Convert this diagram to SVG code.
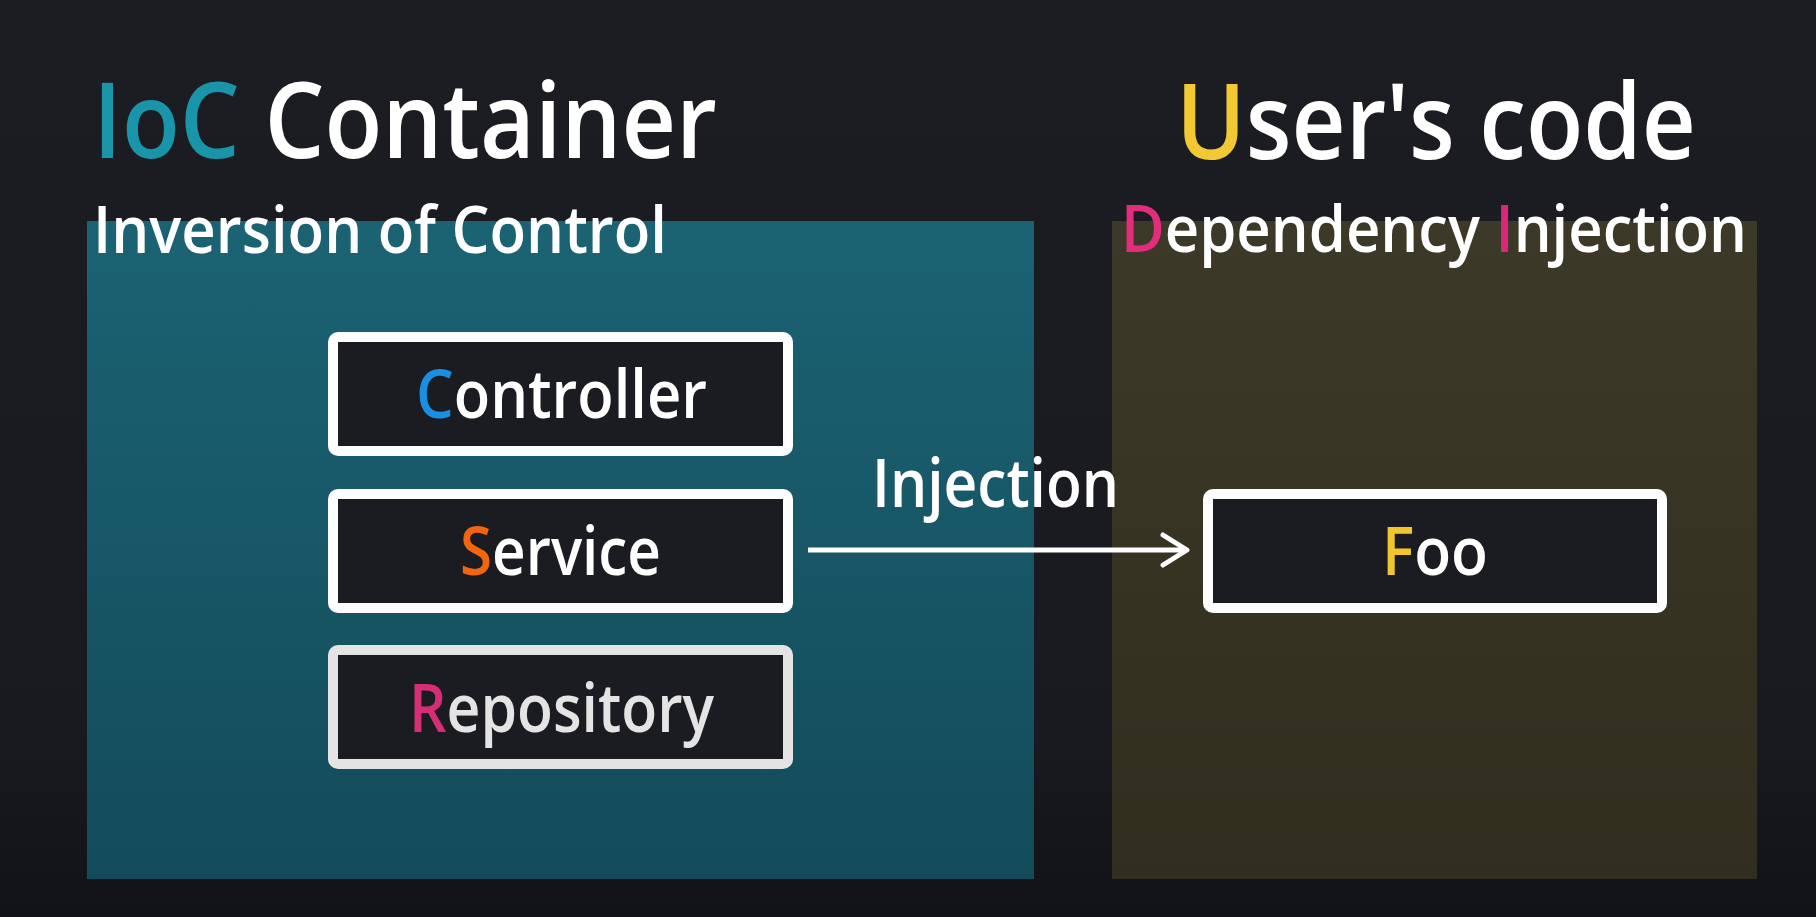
<svg xmlns="http://www.w3.org/2000/svg" width="1816" height="917" viewBox="0 0 1816 917">
<defs>
<linearGradient id="bg" x1="0" y1="0" x2="0" y2="1">
<stop offset="0" stop-color="#1c1d22"/>
<stop offset="0.8" stop-color="#191a1f"/>
<stop offset="1" stop-color="#121317"/>
</linearGradient>
<linearGradient id="teal" x1="0" y1="0" x2="0" y2="1">
<stop offset="0" stop-color="#1b6373"/>
<stop offset="1" stop-color="#134b5a"/>
</linearGradient>
<linearGradient id="olive" x1="0" y1="0" x2="0" y2="1">
<stop offset="0" stop-color="#3c3928"/>
<stop offset="1" stop-color="#322e1f"/>
</linearGradient>
<marker id="arrow" viewBox="0 0 30 36" refX="27" refY="18" markerWidth="30" markerHeight="36" markerUnits="userSpaceOnUse" orient="auto">
<path d="M3 3 L27 18 L3 33" fill="none" stroke="#ffffff" stroke-width="5" stroke-linecap="round" stroke-linejoin="round"/>
</marker>
</defs>
<style>
text{font-family:"Open Sans","Noto Sans","DejaVu Sans",sans-serif;font-weight:600;fill:#ffffff}
.title{font-size:105px}
.sub{font-size:66px}
.lbl{font-size:67px}
.box{fill:#1b1c21;stroke:#ffffff;stroke-width:10}
.dim{stroke:#e4e4e4}
</style>
<rect x="0" y="0" width="1816" height="917" fill="url(#bg)"/>
<g id="ioc-container">
<rect x="87" y="221" width="947" height="658" fill="url(#teal)"/>
<text class="title" x="93" y="158" textLength="624" lengthAdjust="spacingAndGlyphs"><tspan fill="#1a94a9">IoC</tspan> Container</text>
<text class="sub" x="93" y="253" textLength="574" lengthAdjust="spacingAndGlyphs">Inversion of Control</text>
</g>
<g id="users-code">
<rect x="1112" y="221" width="645" height="658" fill="url(#olive)"/>
<text class="title" x="1176" y="159" textLength="520" lengthAdjust="spacingAndGlyphs"><tspan fill="#f2c933">U</tspan>ser's code</text>
<text class="sub" x="1121" y="252" textLength="626" lengthAdjust="spacingAndGlyphs"><tspan fill="#e42c7c">D</tspan>ependency <tspan fill="#d9277a">I</tspan>njection</text>
</g>
<g id="controller">
<rect class="box" x="333" y="337" width="455" height="114" rx="5"/>
<text class="lbl" x="416" y="418" textLength="291" lengthAdjust="spacingAndGlyphs"><tspan fill="#1a8ee0">C</tspan>ontroller</text>
</g>
<g id="service">
<rect class="box" x="333" y="494" width="455" height="114" rx="5"/>
<text class="lbl" x="460" y="575" textLength="201" lengthAdjust="spacingAndGlyphs"><tspan fill="#f2650f">S</tspan>ervice</text>
</g>
<g id="repository">
<rect class="box dim" x="333" y="650" width="455" height="114" rx="5"/>
<text class="lbl" x="409" y="732" textLength="305" lengthAdjust="spacingAndGlyphs" fill="#e4e4e4"><tspan fill="#d62e74">R</tspan><tspan fill="#e4e4e4">epository</tspan></text>
</g>
<g id="foo">
<rect class="box" x="1208" y="494" width="454" height="114" rx="5"/>
<text class="lbl" x="1382" y="575" textLength="106" lengthAdjust="spacingAndGlyphs"><tspan fill="#f0c62f">F</tspan>oo</text>
</g>
<g id="connectors">
<line x1="808" y1="550" x2="1187" y2="550" stroke="#ffffff" stroke-width="5" marker-end="url(#arrow)"/>
<text class="lbl" x="872" y="507" textLength="247" lengthAdjust="spacingAndGlyphs">Injection</text>
</g>
</svg>
